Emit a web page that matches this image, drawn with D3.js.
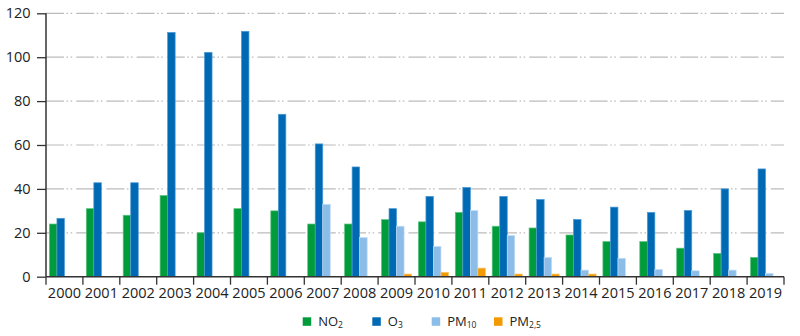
<!DOCTYPE html>
<html><head><meta charset="utf-8">
<script src="https://cdn.jsdelivr.net/npm/d3@7"></script>
<style>body{margin:0;background:#fff}svg{display:block}text{font-family:"Open Sans",sans-serif;fill:#222}</style>
</head><body><svg id="c" width="800" height="336"></svg>
<script>
const years = ["2000","2001","2002","2003","2004","2005","2006","2007","2008","2009","2010","2011","2012","2013","2014","2015","2016","2017","2018","2019"];
const no2  = [24,31,28,37,20,31,30,24,24,26,25,29.3,23,22.2,19,16,16,13,10.6,8.8];
const o3   = [26.6,42.8,42.8,111.3,102.2,111.8,74,60.5,50,31,36.6,40.7,36.6,35.2,26.1,31.7,29.3,30.2,40,49.1];
const pm10 = [null,null,null,null,null,null,null,33,17.8,23,13.8,30.1,18.8,8.8,3,8.4,3.3,2.7,3,1.5];
const pm25 = [null,null,null,null,null,null,null,null,null,1.2,2,3.9,1.2,1.2,1.2,null,null,null,null,null];
const yTicks = [0,20,40,60,80,100,120];
const seriesNames = ["NO2","O3","PM10","PM2,5"];
const seriesLabels = [["NO","2"],["O","3"],["PM","10"],["PM","2,5"]];
const colors = ["#009b3a","#0069b4","#8cbde9","#f29a00"];
const strokes = ["#5cc47f","#4d9ad6","#c4def5","#f7c36a"];
const values = [no2,o3,pm10,pm25];

const svg = d3.select("#c");
const L=46,R=784,T=13.3,B=276.7;
const x = d3.scaleBand().domain(years).range([L,R]).padding(0);
const xs = d3.scaleBand().domain(seriesNames).range([3.4,x.bandwidth()-3.4]).padding(0);
const y = d3.scaleLinear().domain([0,120]).range([B,T]);

// gridlines
svg.append("g").selectAll("line").data(yTicks.filter(d=>d>0)).join("line")
  .attr("x1",L).attr("x2",R).attr("y1",d=>y(d)).attr("y2",d=>y(d))
  .attr("stroke","#bcbcbc").attr("stroke-width",1.2)
  .attr("stroke-dasharray","18,2.5,1.6,2.5,1.6,4");

// bars
const data=[];
years.forEach((yr,i)=>seriesNames.forEach((s,j)=>{const v=values[j][i]; if(v!=null) data.push({yr,s,j,v});}));
svg.append("g").selectAll("rect").data(data).join("rect")
  .attr("x",d=>x(d.yr)+xs(d.s)).attr("width",xs.bandwidth())
  .attr("y",d=>y(d.v)).attr("height",d=>B-y(d.v))
  .attr("fill",d=>colors[d.j]).attr("stroke",d=>strokes[d.j]).attr("stroke-width",0.7);

// y axis
const ya = svg.append("g").attr("transform",`translate(${L},0)`)
  .call(d3.axisLeft(y).tickValues(yTicks).tickSize(9).tickPadding(6.5));
ya.select(".domain").attr("stroke","#333").attr("stroke-width",1.5).attr("d",`M0,${B}V${T}`);
ya.selectAll(".tick line").attr("stroke","#333").attr("stroke-width",1.3);
ya.selectAll("text").attr("font-size",14.5).attr("fill","#222").attr("font-family","Open Sans");

// x axis
const xa = svg.append("g").attr("transform",`translate(0,${B})`)
  .call(d3.axisBottom(x).tickSize(0).tickPadding(11));
xa.select(".domain").attr("stroke","#333").attr("stroke-width",1.5).attr("d",`M${L},0H${R}`);
xa.selectAll("text").attr("font-size",14.5).attr("fill","#222").attr("font-family","Open Sans");
xa.selectAll(".bt").data(years.map(d=>x(d)).concat([R])).join("line").attr("class","bt")
  .attr("x1",d=>d).attr("x2",d=>d).attr("y1",0).attr("y2",8).attr("stroke","#333").attr("stroke-width",1.3);

// legend
const legX=[302.7,372.3,431.7,494];
const lg = svg.append("g");
seriesLabels.forEach((lab,j)=>{
  lg.append("rect").attr("x",legX[j]).attr("y",317.3).attr("width",8.5).attr("height",8.5).attr("fill",colors[j]);
  const t = lg.append("text").attr("x",legX[j]+15.5).attr("y",325.8).attr("font-size",13);
  t.append("tspan").text(lab[0]);
  t.append("tspan").attr("font-size",8.5).attr("dy",2.5).text(lab[1]);
});
</script></body></html>
